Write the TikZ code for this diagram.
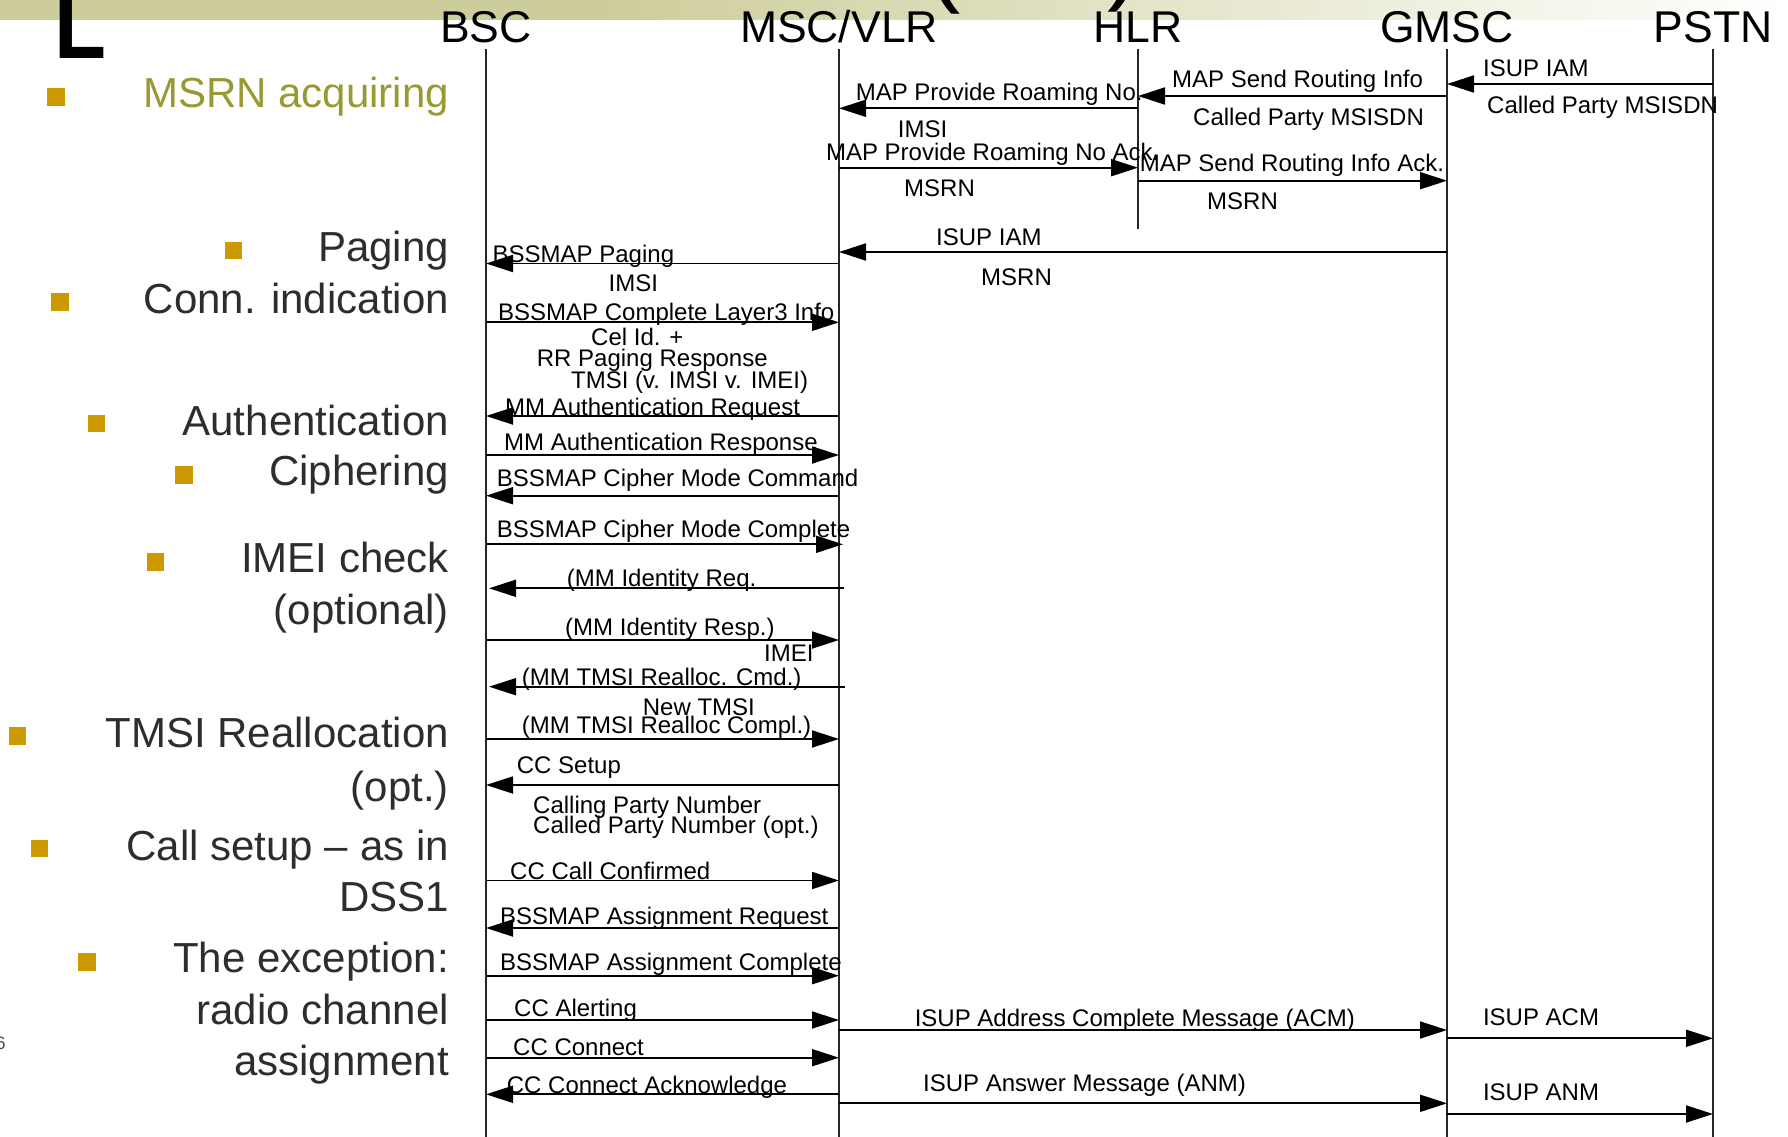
\documentclass[tikz,border=0pt]{standalone}
\usepackage{fontspec}
\setmainfont{Liberation Sans}
\usetikzlibrary{arrows.meta}
\definecolor{bandcol}{RGB}{205,205,155}
\definecolor{goldcol}{RGB}{204,153,0}
\definecolor{msrncol}{RGB}{153,153,51}
\definecolor{bultext}{RGB}{45,45,45}
\begin{document}
\begin{tikzpicture}[x=1pt,y=-1pt,
  hdr/.style={font=\fontsize{44.5}{50}\selectfont, anchor=base, inner sep=0pt},
  lab/.style={font=\fontsize{24}{26}\selectfont, anchor=base west, inner sep=0pt},
  bul/.style={font=\fontsize{42}{48}\selectfont, anchor=base east, inner sep=0pt, text=bultext},
  sq/.style={fill=goldcol, minimum size=17.5pt, inner sep=0pt, draw=none},
  life/.style={line width=1.4pt, black!85},
  msg/.style={line width=1.8pt, -{Triangle[length=27pt,width=17pt]}},
  frag/.style={anchor=base west, inner sep=0pt},
]
\useasboundingbox (0,0) rectangle (1788,1137);
\clip (0,0) rectangle (1788,1137);
\fill[white] (0,0) rectangle (1788,1137);
% title band
\fill[bandcol] (0,0) rectangle (600.5,20);
\shade[left color=bandcol, right color=white] (600,0) rectangle (1788,20);
% title fragments
\node[frag, font=\fontsize{100}{110}\selectfont\bfseries] (tL) at (54,59) {\scalebox{0.85}[1]{L}};
\node[frag, font=\fontsize{100}{110}\selectfont] (tpo) at (927,-6) {(};
\node[frag, font=\fontsize{100}{110}\selectfont] (tpc) at (1107,-8) {)};
\node[anchor=base east, inner sep=0pt, font=\fontsize{18}{20}\selectfont, text=black!70] (pg) at (5.8,1049) {6};

% headers
\node[hdr] (bsc) at (486,42.5) {BSC};
\node[hdr] (msc) at (839,42.5) {MSC/VLR};
\node[hdr] (hlr) at (1138,42.5) {HLR};
\node[hdr] (gmsc) at (1447,42.5) {GMSC};
\node[hdr] (pstn) at (1713,42.5) {PSTN};

% lifelines
\draw[life] (bsc |- 0,49) -- (bsc |- 0,1140);
\draw[life] (msc |- 0,49) -- (msc |- 0,1140);
\draw[life] (hlr |- 0,49) -- (hlr |- 0,229);
\draw[life] (gmsc |- 0,49) -- (gmsc |- 0,1140);
\draw[life] (pstn |- 0,49) -- (pstn |- 0,1140);

% bullets
\node[sq] (s1) at (56,97) {};
\node[bul, text=msrncol] (t1) at (449,107.3) {MSRN acquiring};
\node[sq] (s2) at (233.5,250.5) {};
\node[bul] (t2) at (449,261.5) {Paging};
\node[sq] (s3) at (60,302) {};
\node[bul] (t3) at (449,313) {Conn. indication};
\node[sq] (s4) at (96.5,423.5) {};
\node[bul] (t4) at (449,435) {Authentication};
\node[sq] (s5) at (184,475) {};
\node[bul] (t5) at (449,485.5) {Ciphering};
\node[sq] (s6) at (155.5,562) {};
\node[bul] (t6) at (449,572.5) {IMEI check};
\node[bul] (t6b) at (449,624.5) {(optional)};
\node[sq] (s7) at (17.5,736) {};
\node[bul] (t7) at (449,747) {TMSI Reallocation};
\node[bul] (t7b) at (449,801.5) {(opt.)};
\node[sq] (s8) at (39.5,848.5) {};
\node[bul] (t8) at (449,860.5) {Call setup – as in};
\node[bul] (t8b) at (449,911) {DSS1};
\node[sq] (s9) at (87,962) {};
\node[bul] (t9) at (449,972.5) {The exception:};
\node[bul] (t9b) at (449,1024) {radio channel};
\node[bul] (t9c) at (449,1075.5) {assignment};

% messages
\draw[msg] (pstn |- 0,84) -- (gmsc |- 0,84);
\node[lab] (m1) at (1483,76.7) {ISUP IAM};
\node[lab] (m1a) at (1487,113.3) {Called Party MSISDN};

\draw[msg] (gmsc |- 0,96) -- (hlr |- 0,96);
\node[lab] (m2) at (1172,87.3) {MAP Send Routing Info};
\node[lab] (m2a) at (1193,125.7) {Called Party MSISDN};

\draw[msg] (hlr |- 0,108.3) -- (msc |- 0,108.3);
\node[lab] (m3) at (855.6,100.7) {MAP Provide Roaming No.};
\node[lab] (m3a) at (897.7,137.3) {IMSI};

\draw[msg] (msc |- 0,167.7) -- (hlr |- 0,167.7);
\node[lab] (m4) at (825.8,160.7) {MAP Provide Roaming No Ack.};
\node[lab] (m4a) at (904,196.7) {MSRN};

\draw[msg] (hlr |- 0,180.7) -- (gmsc |- 0,180.7);
\node[lab] (m5) at (1139.6,171.7) {MAP Send Routing Info Ack.};
\node[lab] (m5a) at (1207,209.3) {MSRN};

\draw[msg] (gmsc |- 0,252) -- (msc |- 0,252);
\node[lab] (m6) at (936,245) {ISUP IAM};
\node[lab] (m6a) at (981,285.7) {MSRN};

\draw[msg] (msc |- 0,263.5) -- (bsc |- 0,263.5);
\node[lab] (m7) at (492.5,262) {BSSMAP Paging};
\node[lab] (m7a) at (608.5,291.7) {IMSI};

\draw[msg] (bsc |- 0,322.3) -- (msc |- 0,322.3);
\node[lab] (m8) at (498,320) {BSSMAP Complete Layer3 Info};
\node[lab] (m8a) at (591,345.7) {Cel Id. +};
\node[lab] (m8b) at (536.7,366.7) {RR Paging Response};
\node[lab] (m8c) at (571,388.3) {TMSI (v. IMSI v. IMEI)};

\draw[msg] (msc |- 0,416) -- (bsc |- 0,416);
\node[lab] (m9) at (505,415) {MM Authentication Request};

\draw[msg] (bsc |- 0,455) -- (msc |- 0,455);
\node[lab] (m10) at (504,450.7) {MM Authentication Response};

\draw[msg] (msc |- 0,495.7) -- (bsc |- 0,495.7);
\node[lab] (m11) at (496.6,486.7) {BSSMAP Cipher Mode Command};

\draw[msg] (bsc |- 0,544.3) -- ([xshift=4pt]msc |- 0,544.3);
\node[lab] (m12) at (496.6,537.7) {BSSMAP Cipher Mode Complete};

\draw[msg] ([xshift=5pt]msc |- 0,588.3) -- ([xshift=3pt]bsc |- 0,588.3);
\node[lab] (m13) at (566.7,586.7) {(MM Identity Req.};

\draw[msg] (bsc |- 0,640) -- (msc |- 0,640);
\node[lab] (m14) at (565,635) {(MM Identity Resp.)};
\node[lab] (m14a) at (764,661.7) {IMEI};

\draw[msg] ([xshift=6pt]msc |- 0,686.7) -- ([xshift=3pt]bsc |- 0,686.7);
\node[lab] (m15) at (521.7,685) {(MM TMSI Realloc. Cmd.)};
\node[lab] (m15a) at (642.7,715) {New TMSI};

\draw[msg] (bsc |- 0,739) -- (msc |- 0,739);
\node[lab] (m16) at (521.7,733.3) {(MM TMSI Realloc Compl.)};

\draw[msg] (msc |- 0,785) -- (bsc |- 0,785);
\node[lab] (m17) at (516.7,773.3) {CC Setup};
\node[lab] (m17a) at (533,813.3) {Calling Party Number};
\node[lab] (m17b) at (533,833.3) {Called Party Number (opt.)};

\draw[msg] (bsc |- 0,880.5) -- (msc |- 0,880.5);
\node[lab] (m18) at (510,879) {CC Call Confirmed};

\draw[msg] (msc |- 0,928) -- (bsc |- 0,928);
\node[lab] (m19) at (500,924) {BSSMAP Assignment Request};

\draw[msg] (bsc |- 0,975.7) -- (msc |- 0,975.7);
\node[lab] (m20) at (500,970) {BSSMAP Assignment Complete};

\draw[msg] (bsc |- 0,1020) -- (msc |- 0,1020);
\node[lab] (m21) at (514,1016.7) {CC Alerting};

\draw[msg] (bsc |- 0,1057.7) -- (msc |- 0,1057.7);
\node[lab] (m22) at (513,1055) {CC Connect};

\draw[msg] (msc |- 0,1094.3) -- (bsc |- 0,1094.3);
\node[lab] (m23) at (506.7,1093.3) {CC Connect Acknowledge};

\draw[msg] (msc |- 0,1030) -- (gmsc |- 0,1030);
\node[lab] (m24) at (914.6,1026) {ISUP Address Complete Message (ACM)};

\draw[msg] (gmsc |- 0,1038.3) -- (pstn |- 0,1038.3);
\node[lab] (m25) at (1482.8,1025) {ISUP ACM};

\draw[msg] (msc |- 0,1103.3) -- (gmsc |- 0,1103.3);
\node[lab] (m26) at (923,1091.7) {ISUP Answer Message (ANM)};

\draw[msg] (gmsc |- 0,1114) -- (pstn |- 0,1114);
\node[lab] (m27) at (1482.8,1100.7) {ISUP ANM};
\end{tikzpicture}
\end{document}
